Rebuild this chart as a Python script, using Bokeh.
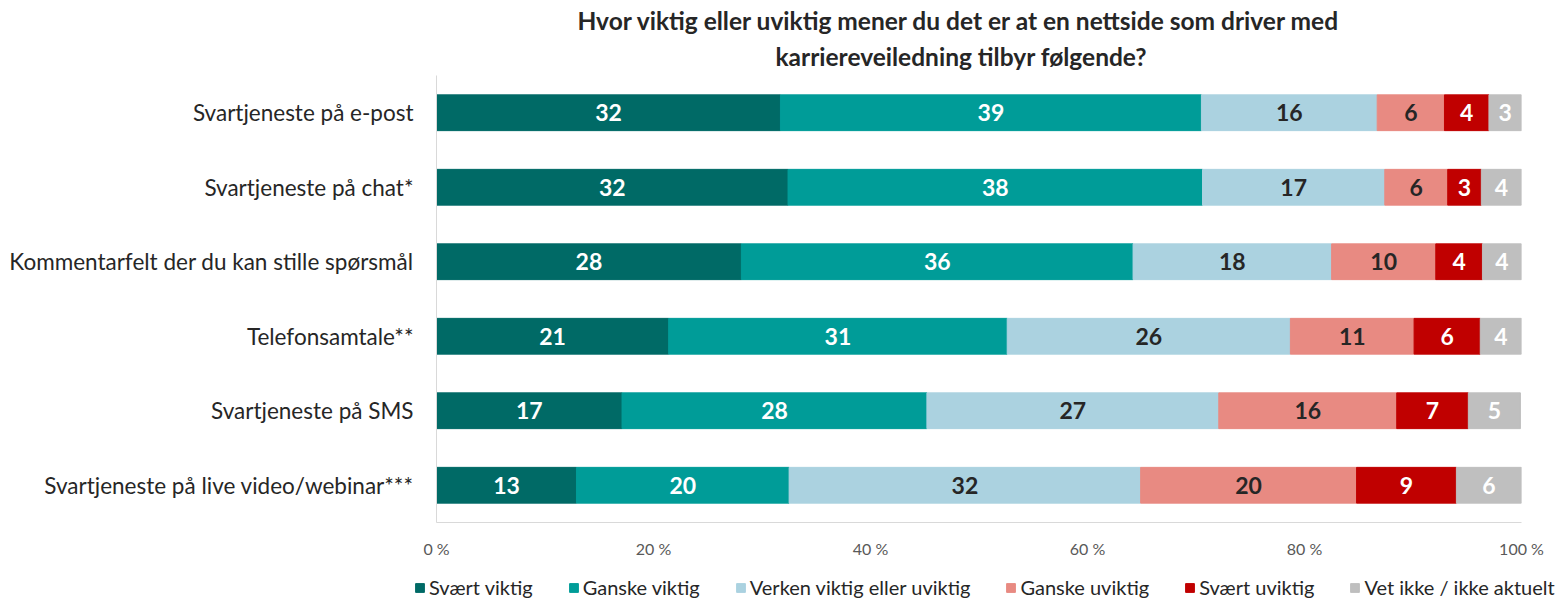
from bokeh.plotting import figure
from bokeh.models import ColumnDataSource, FactorRange, Range1d, Legend, LegendItem, Title, FixedTicker
from bokeh.core.properties import value
from bokeh.embed import file_html
from bokeh.resources import INLINE

categories = [
    "Svartjeneste på e-post",
    "Svartjeneste på chat*",
    "Kommentarfelt der du kan stille spørsmål",
    "Telefonsamtale**",
    "Svartjeneste på SMS",
    "Svartjeneste på live video/webinar***",
]
series = ["Svært viktig", "Ganske viktig", "Verken viktig eller uviktig",
          "Ganske uviktig", "Svært uviktig", "Vet ikke / ikke aktuelt"]
svaert_viktig = [31.7, 32.4, 28.1, 21.4, 17.1, 12.9]
ganske_viktig = [38.8, 38.2, 36.1, 31.2, 28.1, 19.6]
verken = [16.2, 16.8, 18.3, 26.1, 26.9, 32.4]
ganske_uviktig = [6.2, 5.8, 9.6, 11.4, 16.4, 19.9]
svaert_uviktig = [4.1, 3.1, 4.3, 6.1, 6.6, 9.2]
vet_ikke = [3.0, 3.7, 3.6, 3.8, 4.8, 6.0]
colors = ["#006A66", "#009C98", "#ABD2E0", "#E88A82", "#C00000", "#BFBFBF"]
label_colors = ["#FFFFFF", "#FFFFFF", "#262626", "#262626", "#FFFFFF", "#FFFFFF"]
x_ticks = [0, 20, 40, 60, 80, 100]
x_tick_labels = ["0 %", "20 %", "40 %", "60 %", "80 %", "100 %"]
title_lines = ["Hvor viktig eller uviktig mener du det er at en nettside som driver med",
               "karriereveiledning tilbyr følgende?"]

values = [svaert_viktig, ganske_viktig, verken, ganske_uviktig, svaert_uviktig, vet_ikke]
keys = [f"s{i}" for i in range(len(series))]

data = {"cat": categories}
for k, v in zip(keys, values):
    data[k] = v
source = ColumnDataSource(data)

FONT = "Lato"

p = figure(width=1556, height=573, output_backend="svg", toolbar_location=None,
           y_range=FactorRange(factors=list(reversed(categories))),
           x_range=Range1d(0, 100),
           min_border_left=436, min_border_right=35, min_border_top=75, min_border_bottom=51)

renderers = p.hbar_stack(keys, y="cat", height=0.48, color=colors, source=source)

# value labels
cum = [0.0] * len(categories)
for i, v in enumerate(values):
    mids = [c + x / 2 for c, x in zip(cum, v)]
    cum = [c + x for c, x in zip(cum, v)]
    lsrc = ColumnDataSource(dict(x=mids, y=categories, t=[str(int(round(x))) for x in v]))
    p.text(x="x", y="y", text="t", source=lsrc, text_align="center", text_baseline="middle",
           text_font=value(FONT), text_font_style="bold", text_font_size="23px",
           text_color=label_colors[i])

# titles (second line first: it sits closest to the plot)
p.add_layout(Title(text=title_lines[1], align="left", text_font=FONT,
                   text_font_style="bold", text_font_size="24.5px", text_color="#262626",
                   offset=339, standoff=10), "above")
p.add_layout(Title(text=title_lines[0], align="left", text_font=FONT,
                   text_font_style="bold", text_font_size="24.5px", text_color="#262626",
                   offset=141, standoff=0), "above")

p.xaxis.ticker = FixedTicker(ticks=x_ticks)
p.xaxis.major_label_overrides = {t: l for t, l in zip(x_ticks, x_tick_labels)}
p.xaxis.axis_line_color = "#D9D9D9"
p.xaxis.major_tick_line_color = None
p.xaxis.minor_tick_line_color = None
p.xaxis.major_tick_out = 0
p.xaxis.major_tick_in = 0
p.xaxis.major_label_text_color = "#595959"
p.xaxis.major_label_text_font = FONT
p.xaxis.major_label_text_font_size = "16px"
p.xaxis.major_label_standoff = 16

p.yaxis.axis_line_color = "#D9D9D9"
p.yaxis.major_tick_line_color = None
p.yaxis.minor_tick_line_color = None
p.yaxis.major_tick_out = 0
p.yaxis.major_tick_in = 0
p.yaxis.major_label_text_color = "#262626"
p.yaxis.major_label_text_font = FONT
p.yaxis.major_label_text_font_size = "22.5px"
p.yaxis.major_label_standoff = 23

p.xgrid.visible = False
p.ygrid.visible = False
p.outline_line_color = None

# legend strip below the chart (separate root, full-width frame)
pl = figure(width=1556, height=27, output_backend="svg", toolbar_location=None,
            x_axis_type=None, y_axis_type=None, x_range=Range1d(0, 1), y_range=Range1d(0, 1),
            min_border=0)
pl.xgrid.visible = False
pl.ygrid.visible = False
pl.outline_line_color = None
legend_renderers = [pl.hbar(y=[-5], left=[0], right=[1], height=1, color=c) for c in colors]
legend = Legend(items=[LegendItem(label=s, renderers=[r]) for s, r in zip(series, legend_renderers)],
                orientation="horizontal", location=(414, 1),
                label_text_font=FONT, label_text_font_size="20px", label_text_color="#262626",
                glyph_width=11, glyph_height=11, label_standoff=4, spacing=35,
                padding=0, margin=0, border_line_alpha=0, background_fill_alpha=0)
pl.add_layout(legend)

open("out.html", "w").write(file_html([p, pl], INLINE))
